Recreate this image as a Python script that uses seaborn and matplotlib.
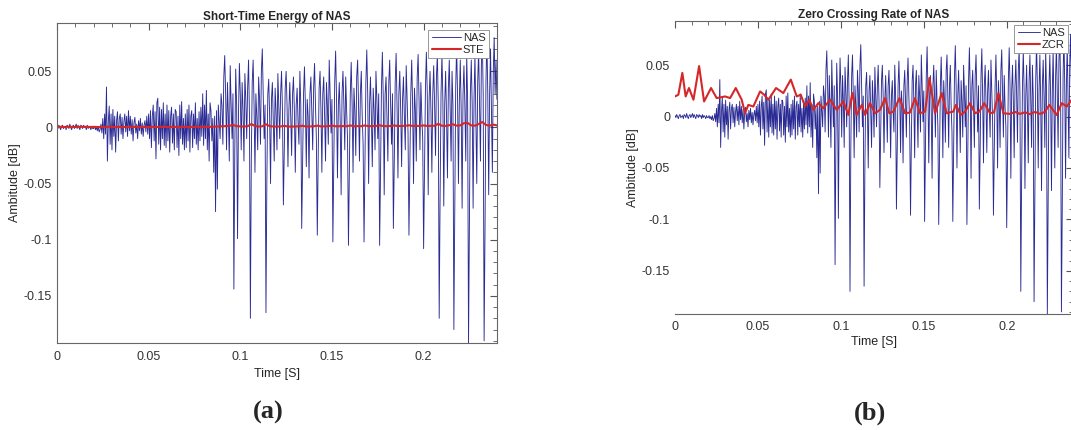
import numpy as np
import pandas as pd
import matplotlib
matplotlib.use('Agg')
import matplotlib.pyplot as plt
from matplotlib.ticker import MultipleLocator, FuncFormatter
import seaborn as sb

# NAS waveform, one sample every 0.5 ms (0 .. 0.24 s)
nas_dt = 0.0005
nas_quiet = [0.001, -0.001, 0.002, 0.000, -0.002, 0.001, 0.002, -0.001, 0.000, 0.001,
             -0.002, 0.002, 0.001, -0.001, 0.003, 0.000, -0.002, 0.001, 0.002, -0.001,
             0.001, 0.003, -0.001, 0.002, 0.000, -0.002, 0.002, 0.001, -0.001, 0.002,
             0.000, 0.001, -0.002, 0.002, -0.001, 0.001, 0.000, -0.002, 0.001, -0.001,
             -0.001, 0.001, -0.002, 0.000, -0.003, 0.001, -0.004, -0.002, 0.003, -0.005]
nas_onset = [0.008, -0.010, 0.012, -0.006, 0.036, -0.030, 0.005, 0.019, -0.015, 0.012,
             -0.020, 0.016, -0.008, 0.010, -0.022, 0.006, 0.014, -0.012, 0.008, 0.012,
             -0.006, 0.009, -0.010, 0.005, 0.012, -0.004, 0.010, -0.008, 0.015, -0.003,
             0.010, -0.006, 0.007, -0.012, 0.004, 0.009, -0.005, 0.003, -0.010, 0.006,
             -0.003, 0.008, -0.006, 0.004, -0.008, 0.002, 0.006, -0.004, 0.010, -0.006]
nas_mid = [0.012, -0.010, 0.015, -0.018, 0.010, 0.020, -0.012, 0.014, -0.028, 0.022,
           0.026, -0.015, 0.018, -0.020, 0.016, -0.010, 0.022, -0.016, 0.012, -0.018,
           0.020, -0.012, 0.015, -0.022, 0.010, 0.018, -0.014, 0.012, -0.020, 0.016,
           0.014, -0.018, 0.010, -0.025, 0.020, -0.010, 0.023, -0.015, 0.008, -0.020,
           0.012, -0.018, 0.016, -0.012, 0.020, -0.022, 0.010, 0.015, -0.018, 0.012,
           -0.010, 0.022, -0.015, 0.008, -0.020, 0.014, -0.012, 0.018, -0.008, 0.030,
           -0.016, 0.020, -0.010, 0.033, -0.020, 0.012, -0.030, 0.022, 0.015, -0.012,
           0.008, -0.040, 0.010, -0.075, 0.015, -0.055, 0.020, 0.005, -0.010, 0.030]
nas_voiced = [
    0.020, -0.015, 0.045, 0.064, 0.030, -0.020, 0.040, 0.010, -0.030, 0.055, 0.020, -0.010, 0.030,
    -0.144, -0.020, 0.052, 0.020, -0.099, 0.010, 0.057, 0.030, -0.020, 0.040, 0.015, -0.030, 0.048, 0.025, -0.010, 0.035, 0.060, 0.010,
    -0.170, -0.030, 0.040, 0.060, 0.020, -0.040, 0.030, 0.010, -0.020, 0.045, 0.025, -0.015, 0.050, 0.070, 0.030, -0.010, 0.020,
    -0.165, -0.045, 0.030, 0.043, 0.010, -0.050, 0.025, 0.040, 0.005, -0.030, 0.035, 0.015, -0.020, 0.048, 0.020, -0.010, 0.030, 0.050, 0.015,
    -0.069, -0.020, 0.035, 0.050, 0.020, -0.035, 0.015, 0.040, 0.010, -0.025, 0.030, 0.045, 0.015, -0.040, 0.020, 0.035, 0.005, -0.015, 0.050, 0.020,
    -0.090, -0.030, 0.030, 0.054, 0.020, -0.035, 0.025, 0.010, -0.045, 0.030, 0.045, 0.015, -0.020, 0.035, 0.057, 0.020, -0.010,
    -0.096, -0.025, 0.035, 0.050, 0.015, -0.040, 0.030, 0.045, 0.010, -0.030, 0.040, 0.020, -0.015, 0.060, 0.030, -0.005, 0.025,
    -0.102, -0.030, 0.040, 0.068, 0.025, -0.045, 0.020, 0.040, 0.005, -0.060, 0.030, 0.050, 0.020, -0.020, 0.045, 0.015, -0.010,
    -0.105, -0.035, 0.030, 0.058, 0.020, -0.040, 0.035, 0.015, -0.025, 0.045, 0.060, 0.020, -0.030, 0.030, 0.050, 0.010, -0.015,
    -0.102, -0.030, 0.040, 0.069, 0.030, -0.050, 0.020, 0.045, 0.010, -0.035, 0.035, 0.015, -0.020, 0.050, 0.025, -0.010, 0.030,
    -0.105, -0.040, 0.035, 0.067, 0.025, -0.060, 0.030, 0.045, 0.010, -0.030, 0.040, 0.060, 0.020, -0.015, 0.030,
    -0.090, -0.030, 0.040, 0.066, 0.020, -0.045, 0.030, 0.050, 0.015, -0.035, 0.025, 0.045, 0.010, -0.020, 0.055, 0.025, -0.005,
    -0.096, -0.035, 0.030, 0.060, 0.020, -0.050, 0.035, 0.015, -0.030, 0.045, 0.065, 0.025, -0.020, 0.040, 0.010, -0.010,
    -0.108, -0.040, 0.035, 0.067, 0.030, -0.060, 0.025, 0.050, 0.015, -0.040, 0.030, 0.055, 0.020, -0.025, 0.045, 0.065, 0.020,
    -0.170, -0.060, 0.030, 0.065, 0.025, -0.070, 0.020, 0.050, 0.010, -0.045, 0.035, 0.060, 0.015, -0.030, 0.050, 0.020,
    -0.180, -0.070, 0.035, 0.073, 0.030, -0.050, 0.025, 0.060, 0.015, -0.072, 0.030, 0.055, 0.020, -0.030, 0.065, 0.025,
    -0.193, -0.080, 0.030, 0.060, 0.020, -0.072, 0.025, 0.065, 0.010, -0.050, 0.040, 0.070, 0.020, -0.030, 0.055, 0.080, 0.030,
    -0.190, -0.090, 0.040, 0.080, 0.030, -0.060, 0.030, 0.070, 0.015, -0.040, 0.050, 0.080, 0.030, 0.060, 0.025]

# short-time energy, one value every 2 ms
ste_dt = 0.002
ste_vals = [0.0008, 0.0005, 0.0004, 0.0006, 0.0005, 0.0004, 0.0005, 0.0006, 0.0005, 0.0004,
            0.0005, 0.0004, 0.0003, 0.0004, 0.0006, 0.0005, 0.0004, 0.0005, 0.0003, 0.0004,
            0.0005, 0.0004, 0.0006, 0.0005, 0.0004, 0.0003, 0.0005, 0.0004, 0.0006, 0.0004,
            0.0005, 0.0004, 0.0005, 0.0003, 0.0004, 0.0006, 0.0005, 0.0004, 0.0005, 0.0004,
            0.0005, 0.0006, 0.0005, 0.0007, 0.0009, 0.0010, 0.0012, 0.0014, 0.0022, 0.0012,
            0.0009, 0.0008, 0.0011, 0.0030, 0.0013, 0.0008, 0.0010, 0.0028, 0.0012, 0.0008,
            0.0007, 0.0009, 0.0014, 0.0008, 0.0007, 0.0009, 0.0010, 0.0015, 0.0008, 0.0009,
            0.0010, 0.0016, 0.0009, 0.0010, 0.0011, 0.0017, 0.0010, 0.0011, 0.0012, 0.0010,
            0.0018, 0.0010, 0.0012, 0.0011, 0.0018, 0.0011, 0.0012, 0.0013, 0.0019, 0.0012,
            0.0011, 0.0013, 0.0018, 0.0012, 0.0013, 0.0014, 0.0019, 0.0013, 0.0014, 0.0013,
            0.0018, 0.0013, 0.0014, 0.0015, 0.0032, 0.0015, 0.0013, 0.0020, 0.0028, 0.0016,
            0.0018, 0.0038, 0.0040, 0.0018, 0.0015, 0.0030, 0.0048, 0.0022, 0.0016, 0.0025,
            0.0018]

# zero crossing rate, read at its turning points
zcr_t = [0.0, 0.0020, 0.0044, 0.0064, 0.0084, 0.0111, 0.0145, 0.0175, 0.0217, 0.0251,
         0.0302, 0.0332, 0.0366, 0.0402, 0.0422, 0.0442, 0.0472, 0.0513, 0.0537, 0.0563,
         0.0609, 0.0653, 0.0698, 0.0734, 0.0758, 0.0784, 0.0810, 0.0834, 0.0864, 0.0894,
         0.0935, 0.0975, 0.1015, 0.1045, 0.1069, 0.1095, 0.1126, 0.1146, 0.1176, 0.1206,
         0.1236, 0.1266, 0.1292, 0.1317, 0.1353, 0.1387, 0.1417, 0.1447, 0.1477, 0.1508,
         0.1534, 0.1568, 0.1608, 0.1638, 0.1678, 0.1694, 0.1723, 0.1749, 0.1779, 0.1809,
         0.1835, 0.1865, 0.1899, 0.1923, 0.1950, 0.1980, 0.2020, 0.2050, 0.2080, 0.2111,
         0.2141, 0.2171, 0.2201, 0.2231, 0.2257, 0.2301, 0.2332, 0.2362, 0.2392]
zcr_v = [0.0196, 0.0213, 0.0425, 0.0196, 0.0278, 0.0164, 0.0491, 0.0147, 0.0278, 0.0180,
         0.0196, 0.0180, 0.0278, 0.0164, 0.0033, 0.0114, 0.0098, 0.0245, 0.0213, 0.0164,
         0.0278, 0.0229, 0.0360, 0.0196, 0.0213, 0.0098, 0.0164, 0.0065, 0.0131, 0.0082,
         0.0164, 0.0065, 0.0147, 0.0016, 0.0229, 0.0016, 0.0114, 0.0016, 0.0131, 0.0033,
         0.0065, 0.0180, 0.0033, 0.0049, 0.0180, 0.0033, 0.0039, 0.0180, 0.0033, 0.0049,
         0.0376, 0.0033, 0.0229, 0.0033, 0.0049, 0.0114, 0.0016, 0.0049, 0.0131, 0.0033,
         0.0049, 0.0131, 0.0033, 0.0039, 0.0229, 0.0033, 0.0026, 0.0046, 0.0026, 0.0042,
         0.0023, 0.0046, 0.0026, 0.0046, 0.0114, 0.0016, 0.0131, 0.0098, 0.0164]

panels = ['Short-Time Energy of NAS', 'Zero Crossing Rate of NAS']
feature_names = ['STE', 'ZCR']
panel_tags = ['(a)', '(b)']

NAS_COLOR = '#1f1f8f'
FEAT_COLOR = '#d62728'

sb.set_style('white')
plt.rcParams['font.family'] = ['Liberation Sans', 'DejaVu Sans']

nas = np.array(nas_quiet + nas_onset + nas_mid + nas_voiced)
nas_df = pd.DataFrame({'t': np.arange(len(nas)) * nas_dt, 'amp': nas})
ste_df = pd.DataFrame({'t': np.arange(len(ste_vals)) * ste_dt, 'amp': ste_vals})
zcr_df = pd.DataFrame({'t': zcr_t, 'amp': zcr_v})

fig = plt.figure(figsize=(10.71, 4.30), dpi=100)
ax1 = fig.add_axes([0.0532, 0.2023, 0.4108, 0.7442])
ax2 = fig.add_axes([0.6303, 0.2698, 0.3716, 0.6814])


def fmt(v, _):
    s = f'{v:.2f}'.rstrip('0').rstrip('.')
    return '0' if s in ('-0', '0') else s


# (axes, title, feature, data, legend anchor, x tick pad, xlabel pad, handle length)
setup = [(ax1, panels[0], feature_names[0], ste_df, (0.982, 0.978), 6, 3, 2.6),
         (ax2, panels[1], feature_names[1], zcr_df, (0.988, 0.988), 5, 2, 2.0)]

for ax, title, feat, df, leg_anchor, xpad, lpad, hlen in setup:
    sb.lineplot(data=nas_df, x='t', y='amp', ax=ax, color=NAS_COLOR, lw=0.65,
                alpha=0.95, label='NAS', sort=False)
    sb.lineplot(data=df, x='t', y='amp', ax=ax, color=FEAT_COLOR, lw=1.5,
                label=feat, sort=False)
    ax.set_xlim(0, 0.24)
    ax.set_ylim(-0.192, 0.093)
    ax.xaxis.set_major_locator(MultipleLocator(0.05))
    ax.xaxis.set_minor_locator(MultipleLocator(0.01))
    ax.yaxis.set_major_locator(MultipleLocator(0.05))
    ax.yaxis.set_minor_locator(MultipleLocator(0.01))
    ax.xaxis.set_major_formatter(FuncFormatter(fmt))
    ax.yaxis.set_major_formatter(FuncFormatter(fmt))
    ax.tick_params(which='both', direction='in', top=True, right=True,
                   labelsize=9, labelcolor='#333333', color='#555555')
    ax.tick_params(which='major', length=5)
    ax.tick_params(which='minor', length=3)
    ax.tick_params(axis='x', which='major', pad=xpad)
    for sp in ax.spines.values():
        sp.set_color('#666666')
        sp.set_linewidth(0.8)
    ax.set_title(title, fontsize=8.5, fontweight='bold', pad=2)
    ax.set_xlabel('Time [S]', fontsize=9, labelpad=lpad)
    ax.set_ylabel('Ambitude [dB]', fontsize=9, labelpad=2)
    ax.get_lines()[1].set_solid_joinstyle('round')
    leg = ax.legend(loc='upper right', bbox_to_anchor=leg_anchor, fontsize=8,
                    fancybox=False, framealpha=1, edgecolor='#888888',
                    borderpad=0.3, handlelength=hlen, handletextpad=0.2,
                    labelspacing=0.15, borderaxespad=0)
    leg.get_frame().set_linewidth(0.6)

ax2.spines['left'].set_visible(False)

fig.text(0.250, 0.040, panel_tags[0], ha='center', va='center', fontsize=19,
         fontweight='bold', family=['Liberation Serif', 'DejaVu Serif'])
fig.text(0.812, 0.040, panel_tags[1], ha='center', va='center', fontsize=19,
         fontweight='bold', family=['Liberation Serif', 'DejaVu Serif'])

fig.savefig('out.png', dpi=100, facecolor='white')
